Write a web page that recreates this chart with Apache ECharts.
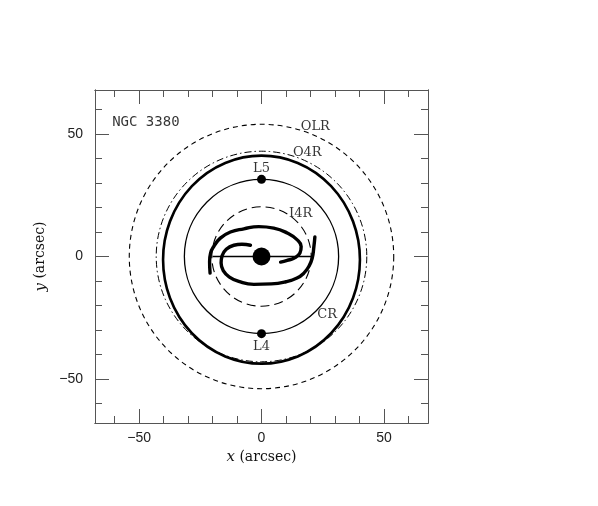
<!DOCTYPE html>
<html>
<head>
    <meta charset="UTF-8">
    <title>NGC 3380</title>
    <style>
        html, body { margin: 0; padding: 0; background: #fff; }
        #container { width: 598px; height: 506px; }
    </style>
</head>
<body>
    <div id="container"></div>
    <script src="https://cdn.jsdelivr.net/npm/echarts@6/dist/echarts.min.js"></script>
    <script>
        // resonance radii (arcsec)
        var ringNames = ['OLR', 'O4R', 'CR', 'I4R'];
        var ringRadius = [54, 43, 31.5, 20.3];

        // thick outer orbit: centre x, centre y, semi-axis x, semi-axis y
        var outerOrbit = [[0, -1.3, 40.2, 42.5]];

        // the two thick arms
        var armUpper = [[-21.0, -6.8], [-21.2, -2.0], [-20.8, 1.4], [-19.5, 4.1], [-16.8, 7.5], [-12.7, 10.0],
            [-7.2, 11.3], [-1.1, 12.2], [5.0, 11.6], [10.5, 9.6], [14.6, 6.8], [16.2, 4.1],
            [15.7, 1.4], [13.2, -0.7], [10.5, -1.6], [7.8, -2.3]];
        var armLower = [[-4.5, 4.6], [-8.0, 5.0], [-11.3, 4.6], [-14.4, 3.0], [-16.1, 0.3], [-16.5, -2.7],
            [-15.4, -6.1], [-13.1, -8.4], [-9.3, -10.2], [-3.1, -11.4], [4.0, -11.2], [10.0, -10.3],
            [14.5, -8.8], [17.3, -6.8], [19.3, -4.1], [20.7, -0.7], [21.4, 4.1], [21.8, 8.0]];

        // bar major axis
        var barLine = [[-20, 0], [20.5, 0]];

        var nucleus = [[0, 0]];
        var lagrange = [[0, 31.5], [0, -31.5]];

        var labelText = ['NGC 3380', 'OLR', 'O4R', 'L5', 'I4R', 'CR', 'L4'];
        var labelPos = [[-61, 57.6], [22, 53], [18.7, 42.3], [0, 35.7], [16, 17.7], [26.8, -23.8], [0, -36.8]];

        var majorTicks = [-50, 0, 50];
        var minorTicks = [-60, -40, -30, -20, -10, 10, 20, 30, 40, 60];

        var serif = '"DejaVu Serif", "Liberation Serif", serif';
        var frame = '#555';

        function makeAxis(pos, ticks, len, withLabels) {
            var isX = pos === 'bottom' || pos === 'top';
            var ax = {
                type: 'value',
                position: pos,
                min: -68,
                max: 68,
                splitLine: { show: false },
                axisLine: { show: true, onZero: false, lineStyle: { color: frame, width: 1 } },
                axisTick: { show: true, inside: true, length: len, customValues: ticks, lineStyle: { color: frame, width: 1 } },
                axisLabel: { show: false }
            };
            if (withLabels) {
                ax.axisLabel = {
                    show: true,
                    customValues: majorTicks,
                    margin: isX ? 8 : 12,
                    color: '#222',
                    fontSize: 14,
                    fontFamily: '"Liberation Sans", Arial, sans-serif',
                    formatter: function (v) { return v < 0 ? '\u2212' + Math.abs(v) : '' + v; }
                };
                ax.name = isX ? '{i|x} (arcsec)' : '{i|y} (arcsec)';
                ax.nameLocation = 'middle';
                ax.nameGap = isX ? 27 : 41;
                ax.nameTextStyle = {
                    color: '#111',
                    fontSize: 14,
                    fontFamily: serif,
                    rich: { i: { fontStyle: 'italic', fontSize: 15, fontFamily: serif, color: '#111' } }
                };
            }
            return ax;
        }

        var ringStyles = [
            { lineWidth: 1.1, lineDash: [5, 4] },
            { lineWidth: 1, lineDash: [7, 3, 1.5, 3] },
            { lineWidth: 1.3, lineDash: null },
            { lineWidth: 1.1, lineDash: [9, 5] }
        ];

        var myChart = echarts.init(document.getElementById('container'));
        myChart.setOption({
            animation: false,
            backgroundColor: '#fff',
            grid: { left: 95, right: 170, top: 90, bottom: 83 },
            xAxis: [
                makeAxis('bottom', majorTicks, 14, true),
                makeAxis('bottom', minorTicks, 7, false),
                makeAxis('top', majorTicks, 14, false),
                makeAxis('top', minorTicks, 7, false)
            ],
            yAxis: [
                makeAxis('left', majorTicks, 14, true),
                makeAxis('left', minorTicks, 7, false),
                makeAxis('right', majorTicks, 14, false),
                makeAxis('right', minorTicks, 7, false)
            ],
            series: [
                {
                    type: 'custom',
                    name: 'resonances',
                    coordinateSystem: 'cartesian2d',
                    data: ringRadius.map(function (r, i) { return [r, 0, i]; }),
                    renderItem: function (params, api) {
                        var c = api.coord([0, 0]);
                        var r = api.size([api.value(0), 0])[0];
                        var st = ringStyles[api.value(2)];
                        return {
                            type: 'circle',
                            shape: { cx: c[0], cy: c[1], r: r },
                            style: { fill: 'none', stroke: '#000', lineWidth: st.lineWidth, lineDash: st.lineDash }
                        };
                    }
                },
                {
                    type: 'custom',
                    name: 'orbit',
                    coordinateSystem: 'cartesian2d',
                    data: outerOrbit,
                    renderItem: function (params, api) {
                        var c = api.coord([api.value(0), api.value(1)]);
                        var s = api.size([api.value(2), api.value(3)]);
                        return {
                            type: 'circle',
                            x: c[0],
                            y: c[1],
                            scaleY: s[1] / s[0],
                            shape: { cx: 0, cy: 0, r: s[0] },
                            style: { fill: 'none', stroke: '#000', lineWidth: 2.6, strokeNoScale: true }
                        };
                    }
                },
                {
                    type: 'line',
                    data: barLine,
                    symbol: 'none',
                    lineStyle: { color: '#000', width: 1.4 }
                },
                {
                    type: 'line',
                    data: armUpper,
                    symbol: 'none',
                    smooth: 0.5,
                    lineStyle: { color: '#000', width: 3.4, cap: 'round' }
                },
                {
                    type: 'line',
                    data: armLower,
                    symbol: 'none',
                    smooth: 0.5,
                    lineStyle: { color: '#000', width: 3.4, cap: 'round' }
                },
                {
                    type: 'scatter',
                    data: nucleus,
                    symbolSize: 18,
                    itemStyle: { color: '#000', opacity: 1 }
                },
                {
                    type: 'scatter',
                    data: lagrange,
                    symbolSize: 9,
                    itemStyle: { color: '#000', opacity: 1 }
                },
                {
                    type: 'scatter',
                    data: labelPos.map(function (p, i) {
                        var item = { value: p, name: labelText[i] };
                        if (i === 0) {
                            item.label = { fontFamily: '"DejaVu Sans Mono", monospace', fontSize: 14 };
                        }
                        return item;
                    }),
                    symbolSize: 0,
                    label: {
                        show: true,
                        position: 'inside',
                        formatter: '{b}',
                        color: '#000',
                        fontSize: 13,
                        fontFamily: serif
                    },
                    labelLayout: function (params) {
                        if (params.dataIndex === 0) {
                            return { x: params.rect.x, align: 'left' };
                        }
                        return {};
                    }
                }
            ]
        });
    </script>
</body>
</html>
